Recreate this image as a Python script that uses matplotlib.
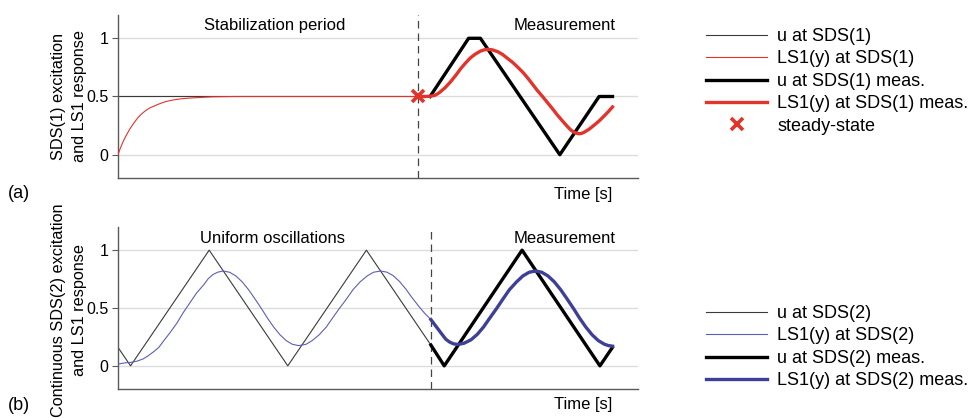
import matplotlib
matplotlib.use("Agg")
import matplotlib.pyplot as plt
from matplotlib.lines import Line2D

plt.rcParams['font.family'] = ['Liberation Sans', 'DejaVu Sans']

# --- (a) step to steady state, then one measured cycle ---
t_switch_a = 3.82
u1_pre_t = [0.0, 3.82]
u1_pre = [0.5, 0.5]
y1_pre_t = [0.0, 0.03, 0.06, 0.10, 0.15, 0.20, 0.25, 0.30, 0.35, 0.40, 0.50, 0.60, 0.70,
            0.80, 0.90, 1.00, 1.20, 1.50, 3.82]
y1_pre = [0.0, 0.055, 0.105, 0.16, 0.22, 0.27, 0.315, 0.35, 0.378, 0.40, 0.43, 0.455,
          0.47, 0.48, 0.486, 0.49, 0.497, 0.5, 0.5]
u1_meas_t = [3.97, 4.46, 4.61, 5.62, 6.12, 6.29]
u1_meas = [0.5, 1.0, 1.0, 0.0, 0.5, 0.5]
y1_meas_t = [3.82, 3.90, 3.97, 4.03, 4.07, 4.10, 4.16, 4.23, 4.30, 4.36, 4.42, 4.48, 4.54,
             4.61, 4.66, 4.70, 4.76, 4.83, 4.89, 4.95, 5.02, 5.08, 5.15, 5.21, 5.27, 5.33,
             5.40, 5.46, 5.53, 5.59, 5.66, 5.72, 5.76, 5.80, 5.84, 5.87, 5.90, 5.93, 5.99,
             6.05, 6.12, 6.18, 6.24, 6.29]
y1_meas = [0.5, 0.5, 0.502, 0.51, 0.525, 0.54, 0.575, 0.626, 0.685, 0.74, 0.787, 0.83, 0.862,
           0.89, 0.901, 0.905, 0.901, 0.885, 0.862, 0.83, 0.793, 0.755, 0.708, 0.66, 0.608,
           0.555, 0.50, 0.45, 0.392, 0.34, 0.285, 0.24, 0.212, 0.193, 0.183, 0.18, 0.184,
           0.193, 0.218, 0.25, 0.29, 0.33, 0.372, 0.41]
steady_t = [3.82]
steady_y = [0.5]

# --- (b) continuous triangle excitation ---
t_switch_b = 3.98
u2_pre_t = [0.0, 0.16, 1.16, 2.16, 3.16, 3.98]
u2_pre = [0.16, 0.0, 1.0, 0.0, 1.0, 0.18]
u2_meas_t = [3.98, 4.15, 5.14, 6.13, 6.29]
u2_meas = [0.18, 0.0, 1.0, 0.0, 0.16]
y2_pre_t = [0.00, 0.08, 0.16, 0.24, 0.32, 0.38, 0.45, 0.52, 0.58, 0.66, 0.75, 0.83, 0.92,
            1.00, 1.09, 1.15, 1.21, 1.27, 1.34, 1.42, 1.50, 1.58, 1.66, 1.74, 1.82, 1.90,
            1.98, 2.06, 2.14, 2.22, 2.30, 2.39, 2.47, 2.56, 2.65, 2.73, 2.82, 2.91, 2.99,
            3.08, 3.17, 3.25, 3.34, 3.42, 3.50, 3.58, 3.66, 3.74, 3.82, 3.90, 3.98]
y2_pre = [0.015, 0.025, 0.03, 0.04, 0.06, 0.085, 0.12, 0.16, 0.215, 0.285, 0.37, 0.46, 0.55,
          0.63, 0.70, 0.755, 0.79, 0.81, 0.82, 0.809, 0.777, 0.726, 0.659, 0.581, 0.50, 0.414,
          0.336, 0.269, 0.218, 0.186, 0.175, 0.186, 0.218, 0.269, 0.336, 0.414, 0.50, 0.581,
          0.659, 0.726, 0.777, 0.809, 0.82, 0.81, 0.78, 0.73, 0.665, 0.59, 0.52, 0.455, 0.40]
y2_meas_t = [3.98, 4.03, 4.08, 4.13, 4.17, 4.22, 4.27, 4.32, 4.40, 4.49, 4.57, 4.65, 4.73,
             4.82, 4.90, 4.98, 5.07, 5.15, 5.23, 5.31, 5.39, 5.47, 5.55, 5.63, 5.71, 5.79,
             5.87, 5.95, 6.03, 6.11, 6.19, 6.24, 6.29]
y2_meas = [0.40, 0.355, 0.31, 0.265, 0.23, 0.205, 0.19, 0.185, 0.195, 0.225, 0.272, 0.336,
           0.414, 0.50, 0.581, 0.659, 0.726, 0.777, 0.809, 0.82, 0.809, 0.777, 0.726, 0.659,
           0.581, 0.50, 0.414, 0.336, 0.269, 0.218, 0.186, 0.175, 0.17]

RED = '#e2342b'
BLUE = '#3e3f96'
BLUE_THIN = '#5d5fb5'
GREY = '#3a3a3a'

fig = plt.figure(figsize=(9.71, 4.18), dpi=100)
ax_a = fig.add_axes([0.1215, 0.5742, 0.536, 0.3899])
ax_b = fig.add_axes([0.1215, 0.0694, 0.536, 0.3875])


def style_axes(ax, t_switch):
    ax.set_xlim(0, 6.62)
    ax.set_ylim(-0.2, 1.2)
    ax.set_yticks([0, 0.5, 1])
    ax.set_yticklabels(['0', '0.5', '1'])
    ax.set_xticks([])
    for s in ['top', 'right']:
        ax.spines[s].set_visible(False)
    for s in ['left', 'bottom']:
        ax.spines[s].set_color('#5a5a5a')
        ax.spines[s].set_linewidth(1.0)
    ax.tick_params(axis='y', length=4, width=0.8, color='#5a5a5a', labelsize=11.5, pad=3)
    ax.grid(axis='y', color='#dcdcdc', lw=1.0)
    ax.set_axisbelow(True)
    ax.axvline(t_switch, color='#444444', lw=0.9, ls=(0, (6, 4)), zorder=1)


style_axes(ax_a, t_switch_a)
style_axes(ax_b, t_switch_b)

# panel (a)
ax_a.plot(u1_pre_t, u1_pre, color=GREY, lw=0.8, zorder=2)
ax_a.plot(y1_pre_t, y1_pre, color=RED, lw=0.8, zorder=3)
ax_a.plot(u1_meas_t, u1_meas, color='black', lw=2.4, zorder=4)
ax_a.plot(y1_meas_t, y1_meas, color=RED, lw=2.4, zorder=5)
ax_a.plot(steady_t, steady_y, ls='none', marker='x', color=RED, ms=9, mew=2.6, zorder=6)
ax_a.text(1.99, 1.11, 'Stabilization period', ha='center', va='center', fontsize=12)
ax_a.text(5.68, 1.11, 'Measurement', ha='center', va='center', fontsize=12)

# panel (b)
ax_b.plot(u2_pre_t, u2_pre, color=GREY, lw=0.8, zorder=2)
ax_b.plot(y2_pre_t, y2_pre, color=BLUE_THIN, lw=0.8, zorder=3)
ax_b.plot(u2_meas_t, u2_meas, color='black', lw=2.4, zorder=4)
ax_b.plot(y2_meas_t, y2_meas, color=BLUE, lw=2.4, zorder=5)
ax_b.text(1.96, 1.1, 'Uniform oscillations', ha='center', va='center', fontsize=12)
ax_b.text(5.68, 1.1, 'Measurement', ha='center', va='center', fontsize=12)

# axis labels and panel tags
fig.text(69 / 971, 1 - 96.5 / 418, 'SDS(1) excitation\nand LS1 response', rotation=90,
         ha='center', va='center', multialignment='center', fontsize=11.7, linespacing=1.45)
fig.text(69 / 971, 1 - 310 / 418, 'Continuous SDS(2) excitation\nand LS1 response', rotation=90,
         ha='center', va='center', multialignment='center', fontsize=11.7, linespacing=1.45)
fig.text(8 / 971, 1 - 194 / 418, '(a)', ha='left', va='center', fontsize=13)
fig.text(8 / 971, 1 - 405 / 418, '(b)', ha='left', va='center', fontsize=13)
fig.text(583 / 971, 1 - 194 / 418, 'Time [s]', ha='center', va='center', fontsize=12)
fig.text(583 / 971, 1 - 404 / 418, 'Time [s]', ha='center', va='center', fontsize=12)

# legends
leg_a = [
    Line2D([], [], color=GREY, lw=0.8, label='u at SDS(1)'),
    Line2D([], [], color=RED, lw=0.8, label='LS1(y) at SDS(1)'),
    Line2D([], [], color='black', lw=2.4, label='u at SDS(1) meas.'),
    Line2D([], [], color=RED, lw=2.4, label='LS1(y) at SDS(1) meas.'),
    Line2D([], [], color=RED, ls='none', marker='x', ms=9, mew=2.6, label='steady-state'),
]
leg_b = [
    Line2D([], [], color=GREY, lw=0.8, label='u at SDS(2)'),
    Line2D([], [], color=BLUE_THIN, lw=0.8, label='LS1(y) at SDS(2)'),
    Line2D([], [], color='black', lw=2.4, label='u at SDS(2) meas.'),
    Line2D([], [], color=BLUE, lw=2.4, label='LS1(y) at SDS(2) meas.'),
]
legend_kw = dict(loc='upper left', frameon=False, fontsize=13, handlelength=3.4,
                 handletextpad=0.55, labelspacing=0.3, borderaxespad=0, borderpad=0)
fig.legend(handles=leg_a, bbox_to_anchor=(706 / 971, 1 - 28 / 418), **legend_kw)
fig.legend(handles=leg_b, bbox_to_anchor=(706 / 971, 1 - 305 / 418), **legend_kw)

fig.savefig('out.png', dpi=100)
